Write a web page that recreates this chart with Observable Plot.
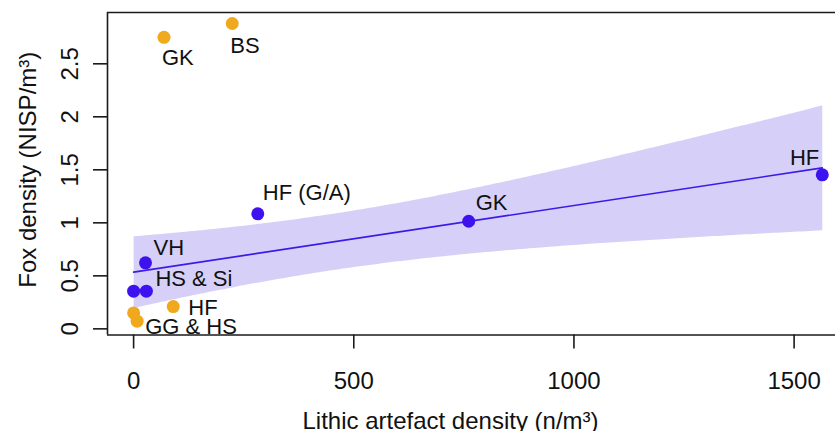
<!DOCTYPE html>
<html>
<head>
<meta charset="utf-8">
<script src="https://cdn.jsdelivr.net/npm/d3@7"></script>
<script src="https://cdn.jsdelivr.net/npm/@observablehq/plot@0.6"></script>
<style>
  html, body { margin: 0; padding: 0; background: #fff; overflow: hidden; }
  #chart svg { display: block; }
</style>
</head>
<body>
<div id="chart"></div>
<script>
// ---- data ----
const orangeSite = ["GK", "BS", "HF", "GG", "HS"];
const orangeX = [69, 224, 90, 0, 8];
const orangeY = [2.75, 2.88, 0.21, 0.15, 0.072];

const purpleSite = ["HF (G/A)", "VH", "HS", "Si", "GK", "HF"];
const purpleX = [282, 27, 0, 29, 761, 1564];
const purpleY = [1.085, 0.623, 0.355, 0.355, 1.015, 1.453];

const labelText = ["GK", "BS", "HF", "GG & HS", "HF (G/A)", "VH", "HS & Si", "GK", "HF"];
const labelSeries = ["orange", "orange", "orange", "orange", "purple", "purple", "purple", "purple", "purple"];
const labelPoint = [0, 1, 2, 4, 0, 1, 3, 4, 5];

const xTicks = [0, 500, 1000, 1500];
const yTicks = [0, 0.5, 1, 1.5, 2, 2.5];
const xTitle = "Lithic artefact density (n/m³)";
const yTitle = "Fox density (NISP/m³)";

// ---- tables built from the arrays ----
const orange = orangeSite.map((s, i) => ({site: s, x: orangeX[i], y: orangeY[i]}));
const purple = purpleSite.map((s, i) => ({site: s, x: purpleX[i], y: purpleY[i]}));
const labels = labelText.map((t, i) => {
  const src = labelSeries[i] === "orange" ? orange : purple;
  return {text: t, x: src[labelPoint[i]].x, y: src[labelPoint[i]].y};
});

// ---- styling ----
const C_ORANGE = "#f0a81c";
const C_PURPLE = "#3d12ee";
const C_LINE = "#3c1ae8";
const C_BAND = "#d6d0f8";
const INK = "#1a1a1a";
const FONT = "'Liberation Sans', Arial, Helvetica, sans-serif";

// label nudges in pixels: [dx, dy, anchor]
const nudge = [
  [-2, 21, "start"],
  [-2, 22, "start"],
  [15, 1, "start"],
  [8, 6, "start"],
  [5, -21, "start"],
  [8, -15, "start"],
  [9, -12, "start"],
  [7, -18, "start"],
  [-3, -17, "end"]
];

const xDomain = [-59.3, 1594];
const yDomain = [-0.058, 2.984];

const labelMarks = labels.map((d, i) => Plot.text([d], {
  x: "x", y: "y", text: "text",
  dx: nudge[i][0], dy: nudge[i][1], textAnchor: nudge[i][2],
  lineAnchor: "middle", fontSize: 22, fill: "#111"
}));

const chart = Plot.plot({
  width: 835,
  height: 431,
  marginLeft: 107,
  marginRight: 0,
  marginTop: 12,
  marginBottom: 96.5,
  x: {domain: xDomain},
  y: {domain: yDomain},
  style: {fontFamily: FONT, fontSize: "24px", color: INK, background: "#fff"},
  marks: [
    Plot.linearRegressionY(purple, {
      x: "x", y: "y", ci: 0.95,
      stroke: C_LINE, strokeWidth: 1.6,
      fill: C_BAND, fillOpacity: 1
    }),
    Plot.dot(orange, {x: "x", y: "y", r: 6.5, fill: C_ORANGE, stroke: null}),
    Plot.dot(purple, {x: "x", y: "y", r: 6.5, fill: C_PURPLE, stroke: null}),
    ...labelMarks,
    // box (right side falls outside the picture)
    Plot.ruleY([yDomain[1], yDomain[0]], {stroke: INK, strokeWidth: 1.6}),
    Plot.ruleX([xDomain[0]], {stroke: INK, strokeWidth: 1.6}),
    Plot.axisX({ticks: xTicks, tickSize: 14, tickPadding: 23, fontSize: 24, label: null,
      stroke: INK, strokeWidth: 1.6, fill: "#111", tickFormat: d => String(d)}),
    Plot.axisY({ticks: yTicks, tickSize: 14, tickPadding: 16, tickRotate: -90, fontSize: 24,
      label: null, stroke: INK, strokeWidth: 1.6, fill: "#111", tickFormat: d => String(d)}),
    Plot.text([yTitle], {frameAnchor: "left", dx: -79, dy: -4, rotate: -90, textAnchor: "middle",
      lineAnchor: "middle", fontSize: 24, fill: "#111"}),
    Plot.text([xTitle], {frameAnchor: "bottom-left", dx: 343, dy: 86, textAnchor: "middle",
      lineAnchor: "middle", fontSize: 24, fill: "#111"})
  ]
});
document.getElementById("chart").appendChild(chart);
</script>
</body>
</html>
